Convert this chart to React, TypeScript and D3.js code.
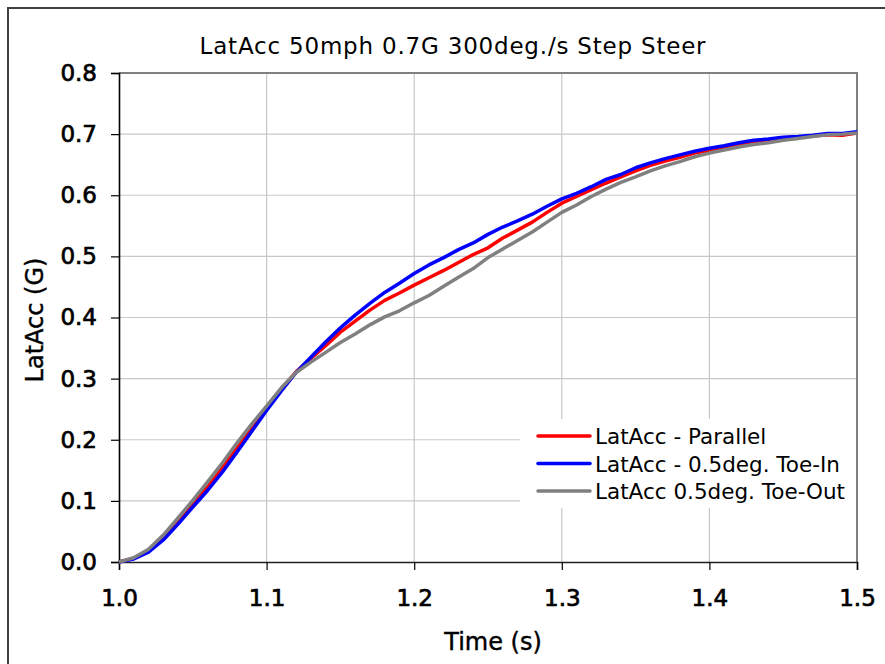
import React, { useRef, useEffect } from 'react';
import * as d3 from 'd3';

// Time samples (s)
const times: number[] = d3.range(51).map(i => +(1 + i * 0.01).toFixed(2));

const parallel: number[] = [
  0.000, 0.006, 0.018, 0.040, 0.066, 0.095, 0.123, 0.154, 0.187, 0.219,
  0.252, 0.283, 0.311, 0.333, 0.354, 0.376, 0.394, 0.412, 0.428, 0.440,
  0.453, 0.465, 0.477, 0.490, 0.503, 0.514, 0.530, 0.543, 0.556, 0.572,
  0.587, 0.598, 0.609, 0.620, 0.630, 0.640, 0.649, 0.656, 0.662, 0.669,
  0.673, 0.679, 0.684, 0.688, 0.691, 0.694, 0.695, 0.697, 0.699, 0.698,
  0.702,
];

const toeIn: number[] = [
  0.000, 0.005, 0.016, 0.036, 0.062, 0.090, 0.117, 0.147, 0.180, 0.214,
  0.248, 0.280, 0.310, 0.335, 0.360, 0.383, 0.404, 0.423, 0.441, 0.456,
  0.472, 0.486, 0.498, 0.511, 0.522, 0.536, 0.548, 0.558, 0.569, 0.582,
  0.594, 0.603, 0.614, 0.626, 0.634, 0.645, 0.653, 0.660, 0.666, 0.672,
  0.677, 0.681, 0.686, 0.690, 0.692, 0.695, 0.696, 0.698, 0.701, 0.701,
  0.704,
];

const toeOut: number[] = [
  0.000, 0.007, 0.021, 0.044, 0.072, 0.101, 0.131, 0.162, 0.195, 0.226,
  0.255, 0.285, 0.310, 0.327, 0.343, 0.359, 0.373, 0.388, 0.401, 0.411,
  0.424, 0.436, 0.451, 0.466, 0.480, 0.498, 0.512, 0.526, 0.540, 0.556,
  0.572, 0.584, 0.598, 0.610, 0.621, 0.630, 0.640, 0.648, 0.655, 0.663,
  0.669, 0.674, 0.679, 0.683, 0.686, 0.690, 0.693, 0.696, 0.699, 0.700,
  0.702,
];

const seriesNames = ['LatAcc - Parallel', 'LatAcc - 0.5deg. Toe-In', 'LatAcc 0.5deg. Toe-Out'];
const seriesColors = ['#ff0000', '#0000ff', '#808080'];
const xTicks = [1.0, 1.1, 1.2, 1.3, 1.4, 1.5];
const yTicks = [0, 0.1, 0.2, 0.3, 0.4, 0.5, 0.6, 0.7, 0.8];

const W = 885;
const H = 664;
const FONT = '"DejaVu Sans", sans-serif';

const App = () => {
  const ref = useRef<SVGSVGElement>(null);

  useEffect(() => {
    const svg = d3.select(ref.current);
    svg.selectAll('*').remove();

    const left = 119, right = 857, top = 73, bottom = 562;

    const x = d3.scaleLinear().domain([1.0, 1.5]).range([left, right]);
    const y = d3.scaleLinear().domain([0, 0.8]).range([bottom, top]);

    // outer frame
    svg.append('rect')
      .attr('x', 8).attr('y', 8)
      .attr('width', W + 20).attr('height', H + 20)
      .attr('fill', 'white')
      .attr('stroke', '#404040')
      .attr('stroke-width', 2);

    // grid
    const grid = svg.append('g');
    grid.selectAll('line.h')
      .data(yTicks.slice(1, -1))
      .join('line')
      .attr('x1', left).attr('x2', right)
      .attr('y1', d => y(d)).attr('y2', d => y(d))
      .attr('stroke', '#c8c8c8').attr('stroke-width', 1.2);
    grid.selectAll('line.v')
      .data(xTicks.slice(1, -1))
      .join('line')
      .attr('x1', d => x(d)).attr('x2', d => x(d))
      .attr('y1', top).attr('y2', bottom)
      .attr('stroke', '#c8c8c8').attr('stroke-width', 1.2);

    // plot border top/right
    svg.append('path')
      .attr('d', `M${left},${top}H${right}V${bottom}`)
      .attr('fill', 'none')
      .attr('stroke', '#808080')
      .attr('stroke-width', 2);

    // legend box (white, hides grid)
    svg.append('rect')
      .attr('x', 520).attr('y', 419)
      .attr('width', right - 520 - 1).attr('height', 89)
      .attr('fill', 'white');

    // axes
    const yAxis = svg.append('g')
      .attr('transform', `translate(${left},0)`)
      .call(d3.axisLeft(y).tickValues(yTicks).tickSize(8).tickPadding(14).tickFormat(d3.format('.1f')));
    yAxis.select('.domain').attr('stroke', '#000').attr('stroke-width', 1.6);
    yAxis.selectAll('.tick line').attr('stroke', '#000').attr('stroke-width', 1.2);
    yAxis.selectAll('text')
      .attr('font-family', FONT).attr('font-size', 23).attr('fill', '#000')
      .attr('stroke', '#000').attr('stroke-width', 0.7);

    const xAxis = svg.append('g')
      .attr('transform', `translate(0,${bottom})`)
      .call(d3.axisBottom(x).tickValues(xTicks).tickSize(8).tickPadding(20).tickFormat(d3.format('.1f')));
    xAxis.select('.domain').attr('stroke', '#202020').attr('stroke-width', 1.6);
    xAxis.selectAll('.tick line').attr('stroke', '#000').attr('stroke-width', 1.2);
    xAxis.selectAll('text')
      .attr('font-family', FONT).attr('font-size', 23).attr('fill', '#000')
      .attr('stroke', '#000').attr('stroke-width', 0.7);

    // lines
    const data = [parallel, toeIn, toeOut];
    const line = d3.line<number>()
      .x((_, i) => x(times[i]))
      .y(d => y(d));

    svg.append('g')
      .selectAll('path')
      .data(data)
      .join('path')
      .attr('d', d => line(d))
      .attr('fill', 'none')
      .attr('stroke', (_, i) => seriesColors[i])
      .attr('stroke-width', 3.5)
      .attr('stroke-linejoin', 'round');

    // legend
    const legend = svg.append('g');
    seriesNames.forEach((name, i) => {
      const ly = 436 + i * 27.5;
      legend.append('line')
        .attr('x1', 538).attr('x2', 590)
        .attr('y1', ly).attr('y2', ly)
        .attr('stroke', seriesColors[i])
        .attr('stroke-width', 3.5)
        .attr('stroke-linecap', 'round');
      legend.append('text')
        .attr('x', 595).attr('y', ly + 8)
        .attr('font-family', FONT).attr('font-size', 21.5)
        .attr('fill', '#000')
        .text(name);
    });

    // titles
    svg.append('text')
      .attr('x', 453).attr('y', 54)
      .attr('text-anchor', 'middle')
      .attr('font-family', FONT).attr('font-size', 23)
      .attr('letter-spacing', 0.8)
      .attr('fill', '#000')
      .text('LatAcc 50mph 0.7G 300deg./s Step Steer');

    svg.append('text')
      .attr('transform', `translate(43,320) rotate(-90)`)
      .attr('text-anchor', 'middle')
      .attr('font-family', FONT).attr('font-size', 24)
      .attr('fill', '#000')
      .attr('stroke', '#000').attr('stroke-width', 0.4)
      .text('LatAcc (G)');

    svg.append('text')
      .attr('x', 493).attr('y', 650)
      .attr('text-anchor', 'middle')
      .attr('font-family', FONT).attr('font-size', 24)
      .attr('fill', '#000')
      .attr('stroke', '#000').attr('stroke-width', 0.4)
      .text('Time (s)');
  }, []);

  return (
    <svg
      ref={ref}
      width={W}
      height={H}
      style={{ position: 'absolute', left: 0, top: 0, background: 'white' }}
    />
  );
};

export default App;
